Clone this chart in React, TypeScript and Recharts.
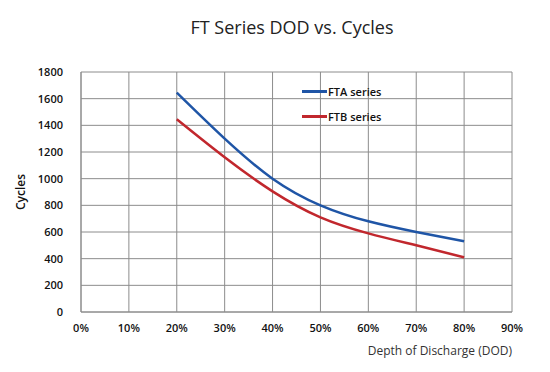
import { CartesianGrid, Label, Line, LineChart, XAxis, YAxis } from "recharts";

const dod = [20, 30, 40, 50, 60, 70, 80];
const fta = [1645, 1300, 1000, 800, 680, 600, 530];
const ftb = [1445, 1160, 905, 710, 590, 500, 410];
const xTicks = [0, 10, 20, 30, 40, 50, 60, 70, 80, 90];
const yTicks = [0, 200, 400, 600, 800, 1000, 1200, 1400, 1600, 1800];
const seriesNames = ["FTA series", "FTB series"];

const data = dod.map((d, i) => ({ dod: d, fta: fta[i], ftb: ftb[i] }));

const BLUE = "#1f55a6";
const RED = "#c1272d";
const FONT = "'Open Sans', 'DejaVu Sans', sans-serif";

function LegendBox() {
  const colors = [BLUE, RED];
  return (
    <div
      style={{
        position: "absolute",
        left: 302,
        top: 79,
        fontFamily: FONT,
        fontSize: 11,
        fontWeight: 600,
        color: "#111",
        zIndex: 2
      }}
    >
      {seriesNames.map((name, i) => (
        <div key={name} style={{ display: "flex", alignItems: "center", height: 25 }}>
          <span style={{ display: "inline-block", width: 25, height: 3, background: colors[i], marginRight: 1 }} />
          <span>{name}</span>
        </div>
      ))}
    </div>
  );
}

export default function App() {
  return (
    <div style={{ position: "absolute", left: 0, top: 0, width: 550, height: 372, background: "#fff" }}>
      <div
        style={{
          position: "absolute",
          left: 92,
          width: 400,
          top: 15,
          textAlign: "center",
          fontFamily: FONT,
          fontSize: 18,
          color: "#222"
        }}
      >
        FT Series DOD vs. Cycles
      </div>
      <LegendBox />
      <LineChart width={550} height={372} data={data} margin={{ top: 72, right: 38, left: 41, bottom: 10 }}>
        <CartesianGrid stroke="#8c8c8c" strokeWidth={1} />
        <XAxis
          dataKey="dod"
          type="number"
          domain={[0, 90]}
          ticks={xTicks}
          interval={0}
          tickFormatter={(v) => `${v}%`}
          tickLine={false}
          axisLine={{ stroke: "#8c8c8c" }}
          height={50}
          tick={{ fontFamily: FONT, fontSize: 11, fontWeight: 600, fill: "#111" }}
          tickMargin={6}
        >
          <Label
            value="Depth of Discharge (DOD)"
            position="insideBottomRight"
            offset={7}
            dx={7}
            style={{ fontFamily: FONT, fontSize: 12, fill: "#333" }}
          />
        </XAxis>
        <YAxis
          type="number"
          domain={[0, 1800]}
          ticks={yTicks}
          interval={0}
          tickLine={false}
          axisLine={{ stroke: "#8c8c8c" }}
          width={40}
          tick={{ fontFamily: FONT, fontSize: 11, fontWeight: 600, fill: "#111" }}
          tickMargin={12}
        >
          <Label
            value="Cycles"
            angle={-90}
            position="insideLeft"
            offset={-20}
            style={{ fontFamily: FONT, fontSize: 12, fontWeight: 600, fill: "#111", textAnchor: "middle" }}
          />
        </YAxis>
        <Line
          type="natural"
          dataKey="fta"
          name={seriesNames[0]}
          stroke={BLUE}
          strokeWidth={2.5}
          dot={false}
          isAnimationActive={false}
        />
        <Line
          type="natural"
          dataKey="ftb"
          name={seriesNames[1]}
          stroke={RED}
          strokeWidth={2.5}
          dot={false}
          isAnimationActive={false}
        />
      </LineChart>
    </div>
  );
}
